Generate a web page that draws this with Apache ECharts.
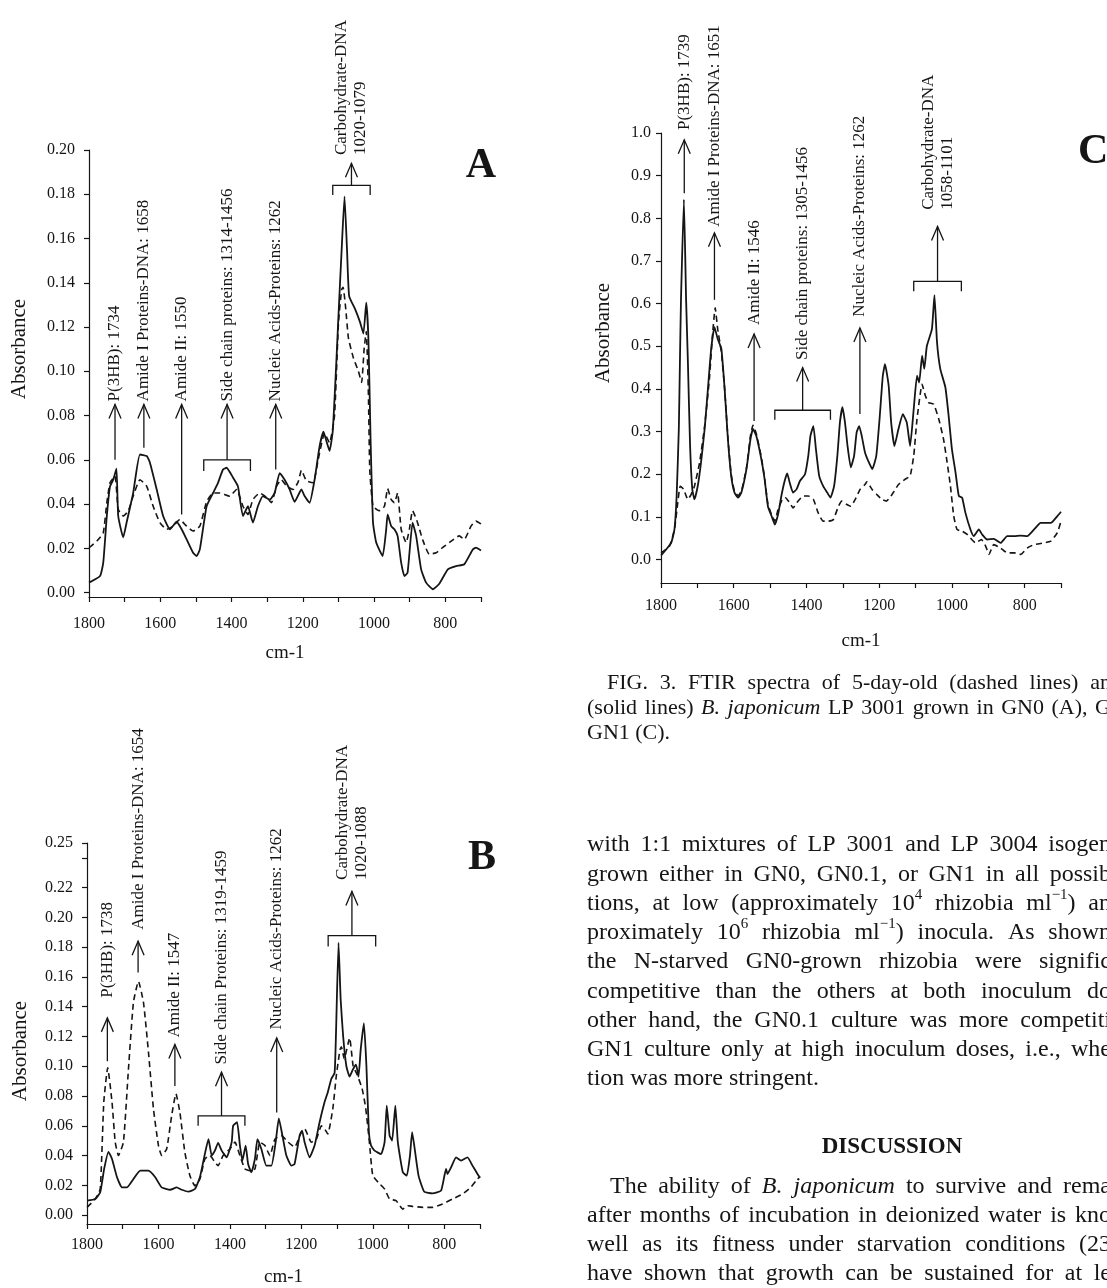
<!DOCTYPE html>
<html lang="en">
<head>
<meta charset="UTF-8">
<title>FTIR spectra</title>
<style>
  html, body { margin: 0; padding: 0; background: #fff; }
  #main { width: 1107px; height: 1288px; }
</style>
</head>
<body>
<div id="main"></div>
<script src="https://cdn.jsdelivr.net/npm/echarts@6/dist/echarts.min.js"></script>
<script>
// ---- panel A (GN0) : [wavenumber, absorbance] ----
var aSolid = [[1800,0.0045],[1769,0.0075],[1760,0.0135],[1750,0.0346],[1741,0.048],[1732,0.051],[1723,0.056],[1718,0.0346],[1704,0.025],[1694,0.032],[1676,0.045],[1657,0.0624],[1638,0.0617],[1629,0.0587],[1610,0.0466],[1592,0.0346],[1573,0.0286],[1554,0.032],[1540,0.0286],[1526,0.024],[1508,0.018],[1498,0.0165],[1489,0.0195],[1470,0.039],[1452,0.045],[1438,0.0496],[1424,0.0556],[1414,0.0564],[1396,0.052],[1382,0.048],[1368,0.0346],[1354,0.039],[1340,0.0316],[1326,0.039],[1312,0.0436],[1293,0.042],[1279,0.045],[1265,0.054],[1251,0.051],[1237,0.0466],[1223,0.041],[1204,0.0466],[1195,0.0436],[1181,0.0406],[1167,0.051],[1153,0.066],[1142,0.0727],[1133,0.068],[1125,0.064],[1116,0.073],[1106,0.104],[1100,0.125],[1091,0.155],[1083,0.179],[1076,0.155],[1070,0.134],[1053,0.128],[1039,0.122],[1030,0.117],[1022,0.131],[1016,0.115],[1010,0.07],[1003,0.0316],[994,0.0226],[976,0.0165],[966,0.0286],[962,0.0353],[952,0.030],[943,0.0286],[934,0.0256],[924,0.0135],[915,0.0075],[906,0.009],[892,0.0316],[882,0.0256],[868,0.0105],[854,0.0045],[835,0.0015],[817,0.004],[793,0.0105],[770,0.012],[747,0.0128],[723,0.0195],[714,0.0203],[700,0.019]];
var aDashed = [[1800,0.0203],[1778,0.0233],[1760,0.027],[1750,0.0406],[1741,0.0496],[1727,0.0526],[1718,0.0376],[1704,0.0346],[1690,0.0368],[1676,0.0436],[1657,0.051],[1638,0.048],[1620,0.039],[1601,0.0316],[1582,0.0286],[1564,0.030],[1545,0.033],[1526,0.030],[1508,0.0278],[1489,0.030],[1470,0.041],[1452,0.045],[1433,0.045],[1405,0.0436],[1386,0.0466],[1368,0.039],[1354,0.0353],[1340,0.042],[1321,0.045],[1302,0.043],[1288,0.0406],[1274,0.048],[1260,0.051],[1245,0.048],[1227,0.0466],[1213,0.050],[1204,0.0553],[1190,0.0505],[1171,0.0496],[1157,0.060],[1139,0.072],[1125,0.0677],[1111,0.080],[1100,0.122],[1091,0.137],[1087,0.138],[1080,0.129],[1072,0.115],[1058,0.106],[1044,0.100],[1035,0.095],[1028,0.110],[1022,0.118],[1016,0.09],[1012,0.055],[1003,0.039],[986,0.037],[971,0.039],[962,0.047],[952,0.042],[943,0.0406],[934,0.045],[924,0.0286],[910,0.0226],[901,0.0286],[892,0.037],[878,0.0316],[864,0.024],[845,0.0173],[826,0.018],[808,0.0203],[789,0.0226],[761,0.0256],[747,0.024],[728,0.030],[714,0.0323],[700,0.031]];
// [wavenumber, arrow base, arrow tip, label start]
var aArrows = [[1727,0.060,0.085,0.0864],[1646,0.0654,0.085,0.0864],[1540,0.0353,0.085,0.0864],[1276,0.0556,0.085,0.0864]];
var aArrowLabels = ['P(3HB): 1734', 'Amide I Proteins-DNA: 1658', 'Amide II: 1550', 'Nucleic Acids-Proteins: 1262'];
// [from, to, bar, foot, arrow tip, label start]
var aBrackets = [[1478,1347,0.060,0.0549,0.085,0.0864],[1116,1011,0.184,0.1797,0.194,0.1977]];
var aBracketLabels = ['Side chain proteins: 1314-1456', 'Carbohydrate-DNA\n1020-1079'];

// ---- panel B (GN0.1) ----
var bSolid = [[1800,0.0097],[1777,0.0108],[1763,0.0153],[1752,0.031],[1740,0.0425],[1730,0.0377],[1716,0.0254],[1702,0.0186],[1688,0.0186],[1670,0.0242],[1651,0.0298],[1628,0.0298],[1609,0.0254],[1591,0.0186],[1567,0.017],[1549,0.0186],[1535,0.017],[1516,0.0157],[1498,0.0175],[1484,0.0254],[1473,0.0377],[1460,0.051],[1451,0.040],[1442,0.0433],[1433,0.0485],[1423,0.0433],[1409,0.0388],[1395,0.049],[1391,0.060],[1380,0.0624],[1372,0.0467],[1365,0.0366],[1356,0.0467],[1349,0.0343],[1340,0.0287],[1330,0.0377],[1323,0.051],[1312,0.0444],[1298,0.0332],[1284,0.0332],[1272,0.049],[1263,0.065],[1253,0.0534],[1242,0.040],[1228,0.0332],[1219,0.0343],[1205,0.0534],[1198,0.0568],[1191,0.049],[1177,0.0388],[1163,0.0467],[1149,0.0624],[1135,0.0759],[1126,0.0826],[1116,0.0916],[1107,0.0955],[1103,0.1226],[1096,0.183],[1090,0.1448],[1083,0.120],[1074,0.100],[1065,0.093],[1056,0.0977],[1047,0.101],[1040,0.093],[1034,0.111],[1025,0.129],[1018,0.1007],[1011,0.0556],[1005,0.0467],[995,0.0433],[977,0.041],[967,0.049],[961,0.0736],[953,0.0534],[946,0.050],[937,0.0736],[930,0.049],[916,0.0287],[905,0.0265],[896,0.040],[890,0.0557],[884,0.0467],[872,0.0265],[856,0.0157],[833,0.0146],[809,0.0164],[795,0.031],[791,0.0276],[781,0.032],[767,0.0388],[753,0.0366],[735,0.0388],[721,0.0332],[707,0.0276],[700,0.025]];
var bDashed = [[1800,0.0052],[1777,0.0108],[1763,0.0175],[1753,0.0759],[1742,0.099],[1730,0.0759],[1721,0.049],[1712,0.040],[1698,0.049],[1684,0.098],[1670,0.143],[1656,0.157],[1642,0.143],[1628,0.1095],[1614,0.0714],[1600,0.0467],[1591,0.040],[1577,0.0444],[1563,0.0669],[1551,0.0815],[1540,0.069],[1526,0.042],[1512,0.0265],[1498,0.0197],[1484,0.0242],[1470,0.0377],[1456,0.040],[1442,0.0355],[1433,0.0332],[1419,0.040],[1400,0.0444],[1386,0.049],[1372,0.040],[1358,0.031],[1344,0.0298],[1330,0.031],[1316,0.049],[1302,0.0467],[1288,0.040],[1274,0.051],[1256,0.0534],[1237,0.049],[1219,0.0456],[1200,0.0557],[1191,0.058],[1172,0.049],[1158,0.051],[1144,0.060],[1135,0.058],[1126,0.0545],[1112,0.0714],[1102,0.094],[1092,0.111],[1088,0.113],[1080,0.105],[1065,0.119],[1055,0.100],[1045,0.095],[1030,0.085],[1020,0.072],[1010,0.050],[1000,0.0265],[981,0.021],[967,0.0175],[953,0.0108],[935,0.0097],[916,0.004],[902,0.0063],[888,0.0058],[860,0.0052],[833,0.0052],[805,0.0074],[777,0.0108],[749,0.0141],[726,0.0186],[707,0.0242],[700,0.026]];
var bArrows = [[1743,0.1034,0.1325,0.146],[1657,0.163,0.184,0.1917],[1554,0.0867,0.1146,0.1193],[1269,0.069,0.119,0.1247]];
var bArrowLabels = ['P(3HB): 1738', 'Amide I Proteins-DNA: 1654', 'Amide II: 1547', 'Nucleic Acids-Proteins: 1262'];
var bBrackets = [[1489,1358,0.0666,0.060,0.096,0.1012],[1125,992,0.1877,0.1805,0.2174,0.2252]];
var bBracketLabels = ['Side chain Proteins: 1319-1459', 'Carbohydrate-DNA\n1020-1088'];

// ---- panel C (GN1) ----
var cSolid = [[1800,0.0094],[1786,0.0235],[1772,0.039],[1763,0.0705],[1757,0.149],[1751,0.306],[1748,0.462],[1745,0.61],[1737,0.844],[1731,0.61],[1726,0.462],[1720,0.266],[1714,0.165],[1708,0.141],[1699,0.172],[1690,0.227],[1680,0.306],[1671,0.40],[1662,0.494],[1653,0.545],[1644,0.517],[1634,0.494],[1625,0.40],[1616,0.282],[1607,0.196],[1598,0.157],[1588,0.145],[1579,0.157],[1565,0.212],[1554,0.282],[1547,0.306],[1538,0.29],[1524,0.235],[1515,0.188],[1506,0.125],[1496,0.102],[1487,0.082],[1478,0.106],[1469,0.149],[1460,0.184],[1453,0.202],[1446,0.18],[1437,0.157],[1427,0.165],[1418,0.184],[1404,0.20],[1395,0.243],[1389,0.29],[1381,0.313],[1374,0.259],[1365,0.196],[1354,0.172],[1343,0.157],[1334,0.145],[1324,0.172],[1315,0.243],[1308,0.321],[1301,0.357],[1294,0.321],[1287,0.266],[1278,0.216],[1269,0.243],[1262,0.298],[1255,0.313],[1248,0.29],[1239,0.251],[1230,0.231],[1219,0.212],[1208,0.243],[1199,0.329],[1190,0.431],[1184,0.458],[1174,0.408],[1167,0.321],[1158,0.266],[1147,0.306],[1135,0.341],[1124,0.321],[1115,0.266],[1105,0.353],[1096,0.431],[1090,0.415],[1082,0.478],[1076,0.447],[1069,0.50],[1055,0.54],[1048,0.62],[1041,0.51],[1032,0.447],[1018,0.404],[1009,0.337],[1000,0.259],[990,0.204],[981,0.149],[972,0.145],[963,0.11],[949,0.0705],[940,0.055],[926,0.0705],[917,0.059],[903,0.047],[885,0.0486],[866,0.039],[848,0.055],[829,0.055],[811,0.056],[793,0.055],[774,0.0705],[756,0.086],[728,0.086],[710,0.102],[700,0.112]];
var cDashed = [[1800,0.0157],[1777,0.031],[1763,0.0705],[1754,0.133],[1747,0.172],[1738,0.165],[1726,0.141],[1717,0.153],[1708,0.172],[1694,0.227],[1680,0.313],[1667,0.423],[1658,0.53],[1651,0.59],[1644,0.54],[1634,0.486],[1625,0.40],[1616,0.285],[1607,0.20],[1598,0.16],[1588,0.15],[1579,0.16],[1565,0.215],[1554,0.29],[1547,0.315],[1538,0.295],[1524,0.24],[1515,0.19],[1506,0.13],[1496,0.105],[1487,0.09],[1478,0.118],[1466,0.141],[1458,0.145],[1446,0.133],[1437,0.121],[1423,0.137],[1409,0.149],[1395,0.149],[1381,0.141],[1368,0.11],[1354,0.09],[1340,0.09],[1326,0.094],[1312,0.125],[1303,0.137],[1289,0.129],[1278,0.125],[1266,0.141],[1252,0.165],[1239,0.176],[1234,0.182],[1220,0.165],[1207,0.153],[1193,0.141],[1180,0.137],[1161,0.157],[1147,0.176],[1129,0.188],[1115,0.196],[1105,0.243],[1096,0.329],[1082,0.411],[1073,0.384],[1064,0.368],[1050,0.364],[1036,0.329],[1023,0.282],[1013,0.227],[1004,0.172],[995,0.102],[986,0.0705],[972,0.0666],[958,0.059],[935,0.039],[919,0.047],[907,0.031],[898,0.012],[885,0.035],[866,0.027],[848,0.0157],[829,0.0157],[811,0.012],[793,0.027],[774,0.035],[746,0.039],[728,0.043],[710,0.063],[700,0.09]];
var cArrows = [[1736,0.859,0.984,1.007],[1653,0.609,0.766,0.78],[1544,0.325,0.529,0.55],[1253,0.341,0.543,0.569]];
var cArrowLabels = ['P(3HB): 1739', 'Amide I Proteins-DNA: 1651', 'Amide II: 1546', 'Nucleic Acids-Proteins: 1262'];
var cBrackets = [[1487,1334,0.35,0.328,0.45,0.468],[1105,974,0.652,0.629,0.781,0.82]];
var cBracketLabels = ['Side chain proteins: 1305-1456', 'Carbohydrate-DNA\n1058-1101'];

// ---- axis ticks ----
var xTicks = [1800,1700,1600,1500,1400,1300,1200,1100,1000,900,800,700];
var xLabels = [1800,1600,1400,1200,1000,800];
var aYLabels = [0,0.02,0.04,0.06,0.08,0.10,0.12,0.14,0.16,0.18,0.20];
var bYLabels = [0,0.02,0.04,0.06,0.08,0.10,0.12,0.14,0.16,0.18,0.20,0.22,0.25];
var bYTicks = [0,0.02,0.04,0.06,0.08,0.10,0.12,0.14,0.16,0.18,0.20,0.22,0.24,0.25];
var cYLabels = [0,0.1,0.2,0.3,0.4,0.5,0.6,0.7,0.8,0.9,1.0];

var SERIF = '"Liberation Serif", "Times New Roman", serif';
var INK = '#151515';

function xAxisFor(grid, margin, gap) {
    return {
        type: 'value', gridIndex: grid, min: 700, max: 1800, inverse: true,
        axisLine: { show: true, onZero: false, lineStyle: { color: INK, width: 1.2 } },
        axisTick: { show: true, length: 5, customValues: xTicks, lineStyle: { color: INK, width: 1.2 } },
        axisLabel: { customValues: xLabels, margin: margin, color: INK, fontFamily: SERIF, fontSize: 16,
            formatter: function (v) { return String(v); } },
        splitLine: { show: false },
        name: 'cm-1', nameLocation: 'middle', nameGap: gap,
        nameTextStyle: { color: INK, fontFamily: SERIF, fontSize: 19, verticalAlign: 'top' }
    };
}
function yAxisFor(grid, min, max, labels, ticks, digits, margin) {
    return {
        type: 'value', gridIndex: grid, min: min, max: max,
        axisLine: { show: true, onZero: false, lineStyle: { color: INK, width: 1.2 } },
        axisTick: { show: true, length: 5, customValues: ticks, lineStyle: { color: INK, width: 1.2 } },
        axisLabel: { customValues: labels, margin: margin, color: INK, fontFamily: SERIF, fontSize: 16,
            formatter: function (v) { return v.toFixed(digits); } },
        splitLine: { show: false }
    };
}

function lineSeries(idx, data, dashed) {
    return {
        type: 'line', xAxisIndex: idx, yAxisIndex: idx, data: data,
        symbol: 'none', smooth: 0.15, animation: false, silent: true,
        lineStyle: { color: INK, width: dashed ? 1.6 : 1.8, type: dashed ? [6, 4] : 'solid' }
    };
}

function head(t) {
    return { type: 'polyline', shape: { points: [[t[0] - 6, t[1] + 14], [t[0], t[1]], [t[0] + 6, t[1] + 14]] },
        style: { stroke: INK, fill: null, lineWidth: 1.3 } };
}
function vlabel(p, text) {
    return { type: 'text', x: p[0], y: p[1], rotation: Math.PI / 2,
        style: { text: text, font: '17px ' + SERIF, fill: INK, lineHeight: 19,
            align: 'left', verticalAlign: 'middle', textAlign: 'left', textVerticalAlign: 'middle' } };
}

function arrowSeries(idx, data, labels) {
    return {
        type: 'custom', xAxisIndex: idx, yAxisIndex: idx, data: data, silent: true, animation: false,
        encode: { x: 0, y: [1, 2, 3] },
        renderItem: function (params, api) {
            var w = api.value(0);
            var b = api.coord([w, api.value(1)]);
            var t = api.coord([w, api.value(2)]);
            var s = api.coord([w, api.value(3)]);
            return { type: 'group', children: [
                { type: 'line', shape: { x1: b[0], y1: b[1], x2: t[0], y2: t[1] }, style: { stroke: INK, lineWidth: 1.3 } },
                head(t), vlabel(s, labels[params.dataIndex])
            ] };
        }
    };
}
function bracketSeries(idx, data, labels) {
    return {
        type: 'custom', xAxisIndex: idx, yAxisIndex: idx, data: data, silent: true, animation: false,
        encode: { x: [0, 1], y: [2, 3, 4, 5] },
        renderItem: function (params, api) {
            var w1 = api.value(0), w2 = api.value(1), mid = (w1 + w2) / 2;
            var f1 = api.coord([w1, api.value(3)]), p1 = api.coord([w1, api.value(2)]);
            var p2 = api.coord([w2, api.value(2)]), f2 = api.coord([w2, api.value(3)]);
            var b = api.coord([mid, api.value(2)]), t = api.coord([mid, api.value(4)]);
            var s = api.coord([mid, api.value(5)]);
            return { type: 'group', children: [
                { type: 'polyline', shape: { points: [f1, p1, p2, f2] }, style: { stroke: INK, fill: null, lineWidth: 1.3 } },
                { type: 'line', shape: { x1: b[0], y1: b[1], x2: t[0], y2: t[1] }, style: { stroke: INK, lineWidth: 1.3 } },
                head(t), vlabel(s, labels[params.dataIndex])
            ] };
        }
    };
}

// ---- page text beside the figure ----
var captionLines = [
    { text: 'FIG. 3. FTIR spectra of 5-day-old (dashed lines) an', x: 607, y: 683, justify: true },
    { text: '(solid lines) *B.* *japonicum* LP 3001 grown in GN0 (A), G', x: 587, y: 708, justify: true },
    { text: 'GN1 (C).', x: 587, y: 733, justify: false }
];
var bodyLines = [
    'with 1:1 mixtures of LP 3001 and LP 3004 isogen',
    'grown either in GN0, GN0.1, or GN1 in all possib',
    'tions, at low (approximately 10^{4} rhizobia ml^{\u22121}) an',
    'proximately 10^{6} rhizobia ml^{\u22121}) inocula. As shown',
    'the N-starved GN0-grown rhizobia were signific',
    'competitive than the others at both inoculum do',
    'other hand, the GN0.1 culture was more competiti',
    'GN1 culture only at high inoculum doses, i.e., whe',
    'tion was more stringent.'
];
var discLines = [
    'The ability of *B.* *japonicum* to survive and rema',
    'after months of incubation in deionized water is kno',
    'well as its fitness under starvation conditions (23',
    'have shown that growth can be sustained for at le'
];

var mctx = document.createElement('canvas').getContext('2d');
function wordSegs(word, size) {
    var italic = false;
    if (word.length > 1 && word.charAt(0) === '*' && word.charAt(word.length - 1) === '*') {
        italic = true; word = word.slice(1, -1);
    }
    var parts = word.split(/\^\{([^}]*)\}/), segs = [];
    for (var i = 0; i < parts.length; i++) {
        if (!parts[i]) continue;
        var sup = i % 2 === 1, fs = sup ? Math.round(size * 0.62) : size;
        var font = (italic ? 'italic ' : '') + fs + 'px ' + SERIF;
        mctx.font = font;
        segs.push({ text: parts[i], font: font, sup: sup, w: mctx.measureText(parts[i]).width });
    }
    return segs;
}
function textLine(line, size, xEnd) {
    var words = line.text.split(' ').map(function (w) { return wordSegs(w, size); });
    var total = 0;
    words.forEach(function (segs) { segs.forEach(function (s) { total += s.w; }); });
    mctx.font = size + 'px ' + SERIF;
    var gap = mctx.measureText(' ').width;
    if (line.justify && words.length > 1) gap = (xEnd - line.x - total) / (words.length - 1);
    var els = [], x = line.x;
    words.forEach(function (segs) {
        segs.forEach(function (s) {
            els.push({ type: 'text', x: x, y: s.sup ? line.y - size * 0.36 : line.y, silent: true,
                style: { text: s.text, font: s.font, fill: INK, textVerticalAlign: 'middle', verticalAlign: 'middle' } });
            x += s.w;
        });
        x += gap;
    });
    return els;
}

var graphics = [];
captionLines.forEach(function (l) { graphics = graphics.concat(textLine(l, 22, 1111)); });
bodyLines.forEach(function (t, i) {
    graphics = graphics.concat(textLine({ text: t, x: 587, y: 845 + i * 29.25, justify: i !== bodyLines.length - 1 }, 24, 1111));
});
discLines.forEach(function (t, i) {
    graphics = graphics.concat(textLine({ text: t, x: i === 0 ? 610 : 587, y: 1187 + i * 29, justify: true }, 24, 1111));
});
graphics.push({ type: 'text', x: 892, y: 1147, style: { text: 'DISCUSSION', font: 'bold 23px ' + SERIF, fill: INK,
    textAlign: 'center', align: 'center', textVerticalAlign: 'middle', verticalAlign: 'middle' } });

// panel letters and y-axis titles
[['A', 481, 166, 'center'], ['B', 482, 858, 'center'], ['C', 1078, 152, 'left']].forEach(function (p) {
    graphics.push({ type: 'text', x: p[1], y: p[2], style: { text: p[0], font: 'bold 42px ' + SERIF, fill: INK,
        textAlign: p[3], align: p[3], textVerticalAlign: 'middle', verticalAlign: 'middle' } });
});
[[19, 349], [20, 1051], [603, 333]].forEach(function (p) {
    graphics.push({ type: 'text', x: p[0], y: p[1], rotation: Math.PI / 2, style: { text: 'Absorbance', font: '21px ' + SERIF,
        fill: INK, textAlign: 'center', align: 'center', textVerticalAlign: 'middle', verticalAlign: 'middle' } });
});

var myChart = echarts.init(document.getElementById('main'), null, { renderer: 'canvas' });
myChart.setOption({
    backgroundColor: '#ffffff',
    animation: false,
    grid: [
        { left: 89, top: 150, width: 392, height: 447 },
        { left: 87, top: 843, width: 393, height: 382 },
        { left: 661, top: 133, width: 400, height: 450 }
    ],
    xAxis: [xAxisFor(0, 19, 47), xAxisFor(1, 13, 44), xAxisFor(2, 15, 49)],
    yAxis: [
        yAxisFor(0, -0.002, 0.2, aYLabels, aYLabels, 2, 14),
        yAxisFor(1, -0.006, 0.25, bYLabels, bYTicks, 2, 14),
        yAxisFor(2, -0.055, 1.0, cYLabels, cYLabels, 1, 10)
    ],
    series: [
        lineSeries(0, aDashed, true), lineSeries(0, aSolid, false),
        lineSeries(1, bDashed, true), lineSeries(1, bSolid, false),
        lineSeries(2, cDashed, true), lineSeries(2, cSolid, false),
        arrowSeries(0, aArrows, aArrowLabels), bracketSeries(0, aBrackets, aBracketLabels),
        arrowSeries(1, bArrows, bArrowLabels), bracketSeries(1, bBrackets, bBracketLabels),
        arrowSeries(2, cArrows, cArrowLabels), bracketSeries(2, cBrackets, cBracketLabels)
    ],
    graphic: graphics
});
</script>
</body>
</html>
